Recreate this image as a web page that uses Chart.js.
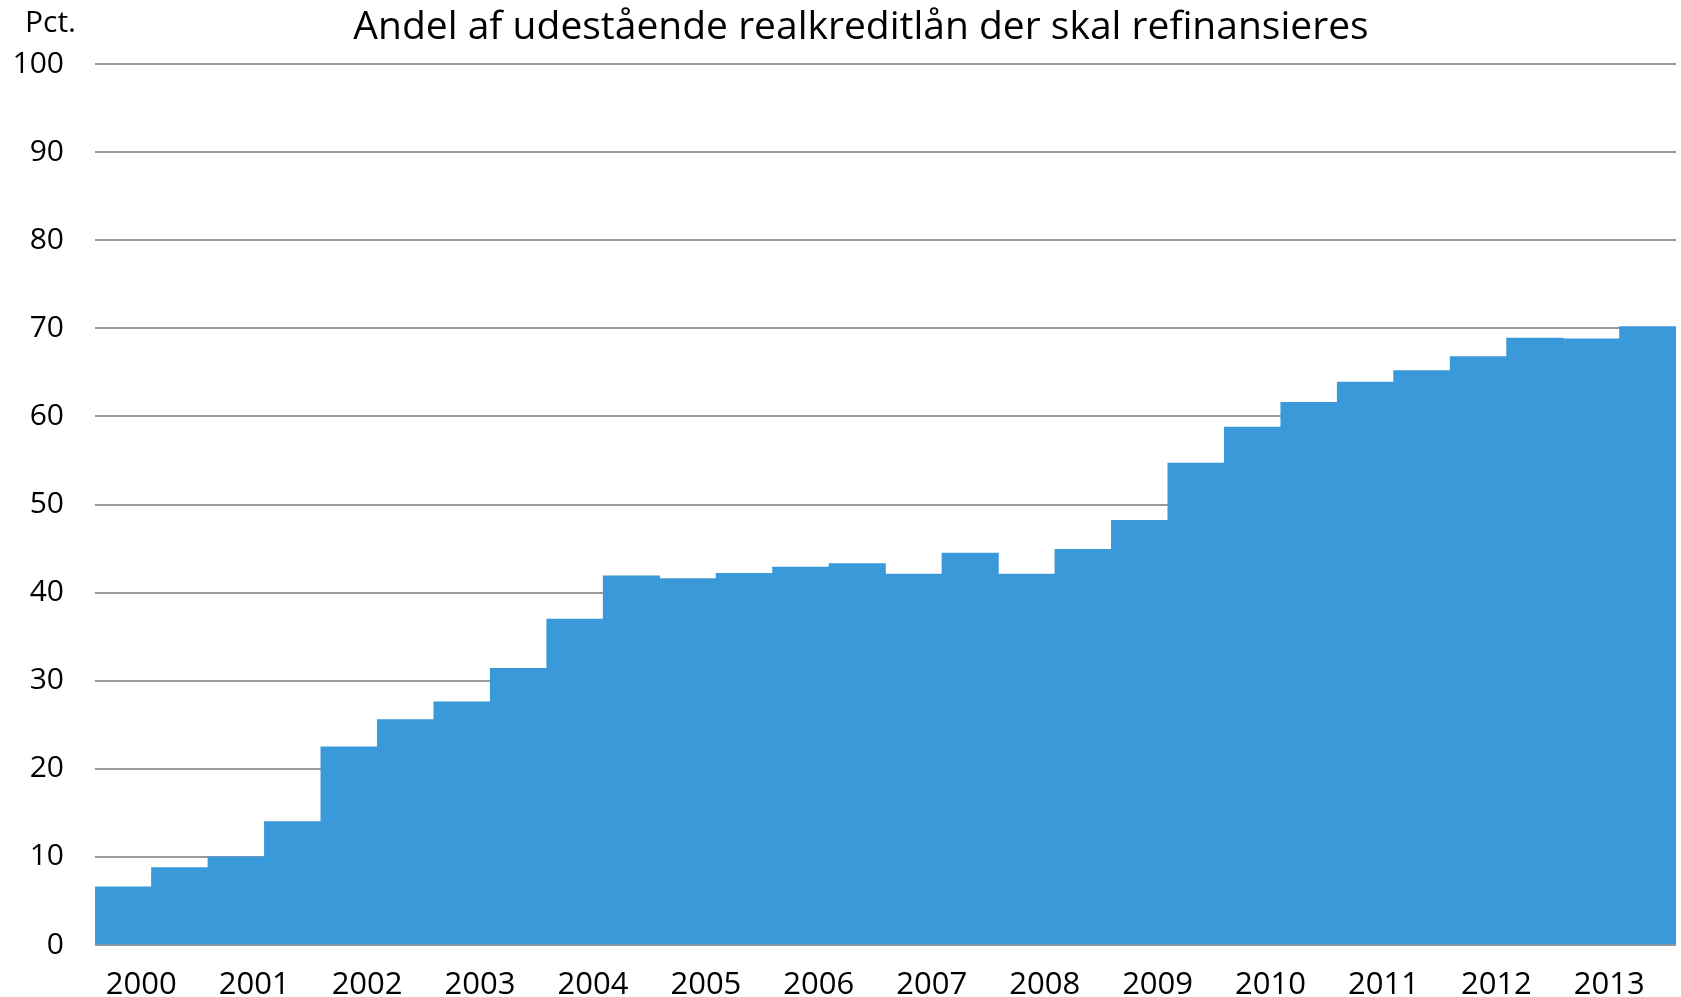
<!DOCTYPE html>
<html>
<head>
<meta charset="utf-8">
<script src="https://cdn.jsdelivr.net/npm/chart.js@4/dist/chart.umd.min.js"></script>
<style>
    html, body { margin: 0; padding: 0; background: #fff; }
    #wrap { width: 1681px; height: 997px; }
</style>
</head>
<body>
<div id="wrap"><canvas id="chart"></canvas></div>
<script>
    // Half-yearly observations, 2000 H1 .. 2013 H2
    const periods = [
        '2000 H1', '2000 H2', '2001 H1', '2001 H2', '2002 H1', '2002 H2', '2003 H1', '2003 H2',
        '2004 H1', '2004 H2', '2005 H1', '2005 H2', '2006 H1', '2006 H2', '2007 H1', '2007 H2',
        '2008 H1', '2008 H2', '2009 H1', '2009 H2', '2010 H1', '2010 H2', '2011 H1', '2011 H2',
        '2012 H1', '2012 H2', '2013 H1', '2013 H2'
    ];
    const shareRefinanced = [
        6.6, 8.8, 10.0, 14.0, 22.5, 25.6, 27.6, 31.4,
        37.0, 41.9, 41.6, 42.2, 42.9, 43.3, 42.1, 44.5,
        42.1, 44.9, 48.2, 54.7, 58.8, 61.6, 63.9, 65.2,
        66.8, 68.9, 68.8, 70.2
    ];
    const yearLabels = ['2000', '2001', '2002', '2003', '2004', '2005', '2006',
                        '2007', '2008', '2009', '2010', '2011', '2012', '2013'];

    const chartTitle = 'Andel af udestående realkreditlån der skal refinansieres';
    const unitLabel = 'Pct.';

    const FONT = '"Open Sans", "Noto Sans", sans-serif';

    // title is a bit left of the plot centre, and "Pct." sits above the y labels
    const headerPlugin = {
        id: 'header',
        afterDraw(chart) {
            const ctx = chart.ctx;
            ctx.save();
            ctx.fillStyle = '#000';
            ctx.textBaseline = 'alphabetic';

            ctx.font = '39px ' + FONT;
            ctx.textAlign = 'center';
            ctx.fillText(chartTitle, 861, 39);

            ctx.font = '30px ' + FONT;
            ctx.textAlign = 'left';
            ctx.fillText(unitLabel, 25, 32);
            ctx.restore();
        }
    };

    new Chart(document.getElementById('chart'), {
        type: 'bar',
        data: {
            labels: periods,
            datasets: [{
                data: shareRefinanced,
                backgroundColor: '#3a99d8',
                borderWidth: 0,
                barPercentage: 1,
                categoryPercentage: 1
            }]
        },
        options: {
            responsive: true,
            maintainAspectRatio: false,
            animation: false,
            layout: { padding: { left: 0, right: 5, top: 64, bottom: 0 } },
            plugins: {
                legend: { display: false },
                tooltip: { enabled: false },
                title: { display: false }
            },
            scales: {
                x: {
                    grid: { display: false },
                    border: { display: false },
                    ticks: {
                        autoSkip: false,
                        maxRotation: 0,
                        minRotation: 0,
                        labelOffset: 18,
                        padding: 14,
                        color: '#000',
                        font: { family: FONT, size: 31 },
                        callback: (v, i) => (i % 2 === 0 ? yearLabels[i / 2] : '')
                    },
                    afterFit: (scale) => { scale.height = 52; }
                },
                y: {
                    min: 0,
                    max: 100,
                    grid: { color: '#999999', lineWidth: 2, drawTicks: false },
                    border: { display: false },
                    ticks: {
                        stepSize: 10,
                        padding: 31,
                        color: '#000',
                        font: { family: FONT, size: 30 }
                    },
                    afterFit: (scale) => { scale.width = 95; }
                }
            }
        },
        plugins: [headerPlugin]
    });
</script>
</body>
</html>
